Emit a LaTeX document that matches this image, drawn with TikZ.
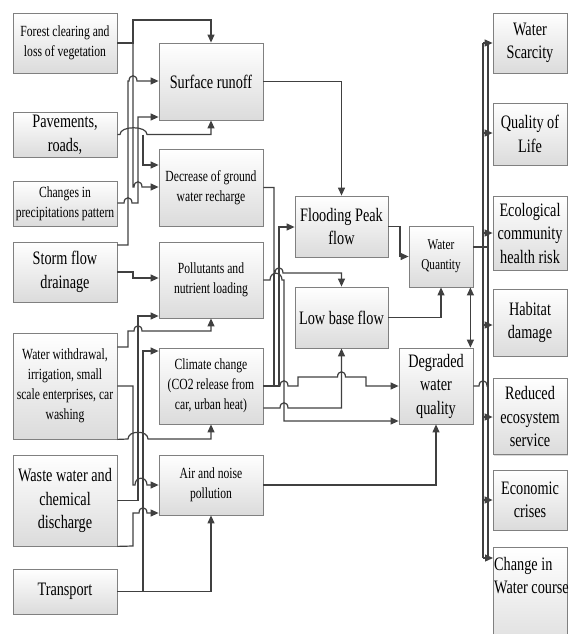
\documentclass[tikz,border=0pt]{standalone}
\usepackage{fontspec}
\setmainfont{Liberation Serif}[FakeStretch=0.75]
\usetikzlibrary{arrows.meta,shadows,calc}
\newcommand\jmp[2]{-- (#1-4,#2) .. controls +(0,-7) and +(0,-7) .. (#1+4,#2)}
\newcommand\jmpw[3]{-- (#1,#3) .. controls +(0,-9) and +(0,-9) .. (#2,#3)}
\tikzset{
  box/.style={draw=black!50, line width=0.8pt, top color=white, bottom color=black!14,
    drop shadow={shadow xshift=1pt,shadow yshift=-1pt,opacity=0.3},
    align=center, inner sep=2pt, font=\fontsize{15.5}{20}\selectfont},
  big/.style={font=\fontsize{19}{23.5}\selectfont},
  wire/.style={draw=black!75, line width=1.2pt},
  arr/.style={wire, -{Triangle[length=8pt,width=7pt]}},
  darr/.style={wire, {Triangle[length=8pt,width=7pt]}-{Triangle[length=8pt,width=7pt]}},
}
\begin{document}
\begin{tikzpicture}[x=1pt,y=-1pt]
\useasboundingbox (0,0) rectangle (568,634);
% left column
\node[box, minimum width=104pt, minimum height=60pt] (forest) at (65,43) {Forest clearing and\\loss of vegetation};
\node[box, big, minimum width=104pt, minimum height=45pt] (pave) at (65,134.5) {Pavements,\\roads,};
\node[box, minimum width=104pt, minimum height=45pt] (changes) at (65,203.5) {Changes in\\precipitations pattern};
\node[box, big, minimum width=104pt, minimum height=60pt] (storm) at (65,272) {Storm flow\\drainage};
\node[box, minimum width=104pt, minimum height=106pt] (withdraw) at (65,386) {Water withdrawal,\\irrigation, small\\scale enterprises, car\\washing};
\node[box, big, minimum width=104pt, minimum height=91pt] (waste) at (65,500.5) {Waste water and\\chemical\\discharge};
\node[box, big, minimum width=104pt, minimum height=45pt] (transport) at (65,591.5) {Transport};
% middle column 1
\node[box, big, minimum width=104pt, minimum height=77pt] (surf) at (211,81.5) {Surface runoff};
\node[box, minimum width=104pt, minimum height=77pt] (decr) at (211,187.5) {Decrease of ground\\water recharge};
\node[box, minimum width=104pt, minimum height=76pt] (poll) at (211,280) {Pollutants and\\nutrient loading};
\node[box, minimum width=104pt, minimum height=76pt] (clim) at (211,386) {Climate change\\(CO2 release from\\car, urban heat)};
\node[box, minimum width=104pt, minimum height=60pt] (air) at (211,485) {Air and noise\\pollution};
% middle column 2
\node[box, big, minimum width=93pt, minimum height=61pt] (flood) at (341.5,226.5) {Flooding Peak\\flow};
\node[box, big, minimum width=93pt, minimum height=61pt] (low) at (341.5,317.5) {Low base flow};
\node[box, minimum width=64pt, minimum height=61pt, font=\fontsize{15}{20}\selectfont] (wq) at (441,256.5) {Water\\Quantity};
\node[box, big, minimum width=74pt, minimum height=76pt] (degr) at (436,386) {Degraded\\water\\quality};
% right column
\node[box, big, minimum width=74pt, minimum height=60pt] (scar) at (530,43) {Water\\Scarcity};
\node[box, big, minimum width=74pt, minimum height=62pt] (qol) at (530,134) {Quality of\\Life};
\node[box, big, minimum width=74pt, minimum height=74pt] (eco) at (530,233) {Ecological\\community\\health risk};
\node[box, big, minimum width=74pt, minimum height=67pt] (hab) at (530,322.5) {Habitat\\damage};
\node[box, big, minimum width=74pt, minimum height=76pt] (red) at (530,416.5) {Reduced\\ecosystem\\service};
\node[box, big, minimum width=74pt, minimum height=60pt] (econ) at (530,500) {Economic\\crises};
\node[box, minimum width=74pt, minimum height=110pt, anchor=north west] (chg) at (493,547) {};
\node[big, anchor=north west, align=left, inner sep=0pt] (chgt) at (494,557) {Change in\\Water course};

% left -> middle 1
\draw[arr] (forest.east) -- (133,43) -- (133,20) -- (surf.north |- 0,20) -- (surf.north);
\draw[arr] (133,43) -- (133,187) \jmp{138}{187} -- (decr.west |- 0,187);
\draw[arr] (storm.east |- 0,245) -- (128,245) -- (128,81) \jmp{133}{81} -- (surf.west |- 0,81);
\draw[arr] (storm.east) -- (133,272) -- (133,278) -- (poll.west |- 0,278);
\draw[arr] (pave.east) \jmpw{120}{147}{134.5} -- (surf.south |- 0,134.5) -- (surf.south);
\draw[arr] (143,134.5) -- (143,165) -- (decr.west |- 0,165);
\draw[arr] (changes.east |- 0,203) \jmp{128}{203} -- (138,203) -- (138,117) -- (surf.west |- 0,117);
\draw[arr] (withdraw.east |- 0,347) -- (128,347) -- (128,331) \jmp{138}{331} -- (poll.south |- 0,331) -- (poll.south);
\draw[arr] (withdraw.east) -- (133,386) -- (133,485) \jmpw{135}{147}{485} -- (air.west);
\draw[arr] (withdraw.south east) \jmpw{128}{148}{439} -- (clim.south |- 0,439) -- (clim.south);
\draw[arr] (waste.east) -- (138,500.5) -- (138,316) -- (poll.west |- 0,316);
\draw[arr] (waste.south east) -- (133,546) -- (133,513) \jmp{143}{513} -- (air.west |- 0,513);
\draw[arr] (transport.east) -- (air.south |- 0,591.5) -- (air.south);
\draw[arr] (143,591.5) -- (143,351) -- (clim.west |- 0,351);

% middle 1 -> middle 2
\draw[arr] (surf.east) -| (flood.north);
\draw[arr] (decr.east) -- (274,187.5) -- (274,273) \jmp{279}{273} -- (low.north |- 0,273) -- (low.north);
\draw[wire] (clim.east) -- (274,386) -- (274,273);
\draw[arr] (clim.east) -- (279,386) -- (279,227) -- (flood.west |- 0,227);
\draw[arr] (279,386) \jmp{284}{386} -- (298,386) -- (298,377) \jmp{341.5}{377} -- (366,377) -- (366,386) -- (degr.west);
\draw[arr] (clim.east |- 0,408) \jmp{284}{408} -- (low.south |- 0,408) -- (low.south);
\draw[arr] (poll.east) \jmpw{270}{282}{280} -- (284,280) -- (284,421) -- (degr.west |- 0,421);
\draw[arr] (air.east) -- (degr.south |- 0,485) -- (degr.south);
\draw[arr] (flood.east) -- (400,226.5) -- (400,256.5) -- (wq.west);
\draw[arr] (low.east) -| (wq.south);
\draw[darr] ([xshift=-3pt]wq.south east) -- ([xshift=-3pt]degr.north east);

% right trunks
\draw[wire] (wq.east |- 0,247) -- (488,247);
\draw[wire] (483,43) -- (483,558);
\draw[wire] (488,43) -- (488,558);
\draw[wire] (degr.east) \jmp{483}{386} -- (488,386);
\draw[arr] (483,43) -- (scar.west |- 0,43);
\draw[arr] (483,133) -- (qol.west |- 0,133);
\draw[arr] (483,233) -- (eco.west |- 0,233);
\draw[arr] (483,325) -- (hab.west |- 0,325);
\draw[arr] (483,417) -- (red.west |- 0,417);
\draw[arr] (483,500) -- (econ.west |- 0,500);
\draw[arr] (483,558) -- (chg.west |- 0,558);
\end{tikzpicture}
\end{document}
